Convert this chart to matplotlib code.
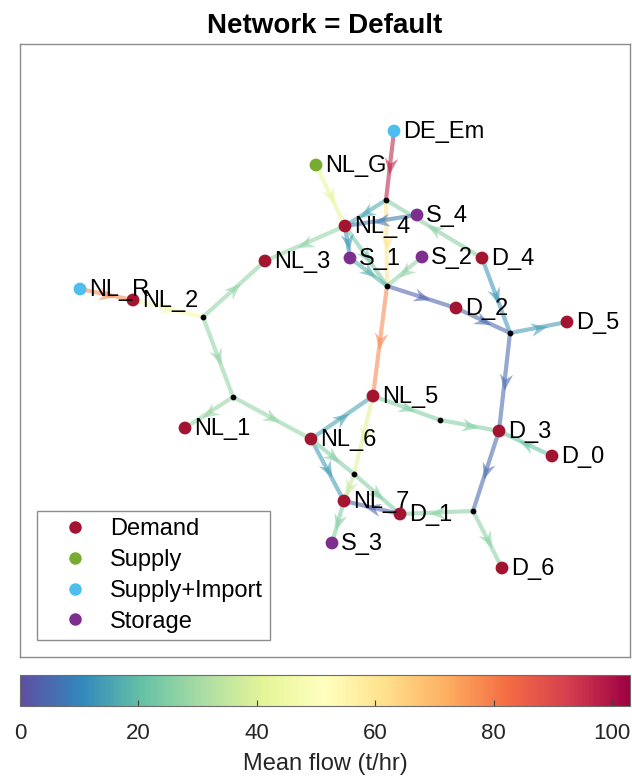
import numpy as np
import matplotlib
matplotlib.use('Agg')
import matplotlib.pyplot as plt
from matplotlib.markers import MarkerStyle
from matplotlib.path import Path
from matplotlib.transforms import Affine2D
from matplotlib.lines import Line2D
import matplotlib.colors as mcolors
import matplotlib.cm as cm

plt.rcParams['font.family'] = ['Liberation Sans', 'DejaVu Sans']

# 节点布局 (layout units, y grows downward)
node_names = ['DE_Em', 'NL_G', 'NL_4', 'S_4', 'NL_3', 'S_1', 'S_2', 'D_4',
              'NL_R', 'NL_2', 'D_2', 'D_5', 'NL_5', 'D_3', 'D_0', 'NL_1',
              'NL_6', 'NL_7', 'D_1', 'S_3', 'D_6']
node_x = [394, 316, 345, 417, 265, 350, 422, 482,
          80, 133, 456, 567, 373, 499, 552, 185,
          311, 344, 400, 332, 502]
node_y = [131, 165, 226, 215, 261, 258, 257, 258,
          289, 300, 308, 322, 396, 431, 456, 428,
          439, 501, 514, 543, 568]
node_type = ['Supply+Import', 'Supply', 'Demand', 'Storage', 'Demand', 'Storage', 'Storage', 'Demand',
             'Supply+Import', 'Demand', 'Demand', 'Demand', 'Demand', 'Demand', 'Demand', 'Demand',
             'Demand', 'Demand', 'Demand', 'Storage', 'Demand']

# 管道交汇点
junc_names = ['J1', 'J2', 'J3', 'J4', 'J5', 'J6', 'J7', 'J8']
junc_x = [386, 387, 203, 510, 233, 440, 354, 473]
junc_y = [200, 286, 317, 333, 397, 420, 474, 511]

# 边: 起点, 终点, 平均流量 (t/hr)
edge_from = ['DE_Em', 'NL_G', 'J1', 'J2', 'J1', 'D_4', 'S_4', 'NL_4', 'J3', 'NL_4',
             'NL_4', 'S_1', 'S_2', 'J2', 'D_2', 'D_4', 'J4', 'J4', 'D_3', 'J8',
             'J8', 'D_0', 'NL_5', 'J6', 'NL_6', 'NL_5', 'J7', 'NL_7', 'J3', 'J5',
             'J5', 'NL_6', 'NL_6', 'J7', 'D_1', 'NL_R', 'NL_2']
edge_to = ['J1', 'NL_4', 'J2', 'NL_5', 'NL_4', 'J1', 'NL_4', 'NL_3', 'NL_3', 'J2',
           'S_1', 'J2', 'J2', 'D_2', 'J4', 'J4', 'D_5', 'D_3', 'J8', 'D_6',
           'D_1', 'D_3', 'J6', 'D_3', 'NL_5', 'J7', 'NL_7', 'S_3', 'J5', 'NL_1',
           'NL_6', 'NL_7', 'J7', 'D_1', 'NL_7', 'NL_2', 'J3']
edge_flow = [97, 42, 60, 78, 16, 26, 8, 27, 27, 24,
             13, 18, 27, 4, 5, 13, 14, 5, 5, 26,
             26, 21, 25, 25, 15, 40, 36, 25, 27, 28,
             27, 14, 25, 25, 4, 78, 47]

type_names = ['Demand', 'Supply', 'Supply+Import', 'Storage']
type_colors = ['#a2142f', '#77ac30', '#4dbeee', '#7e2f8e']

vmax = 103
cmap = plt.get_cmap('Spectral_r')
norm = mcolors.Normalize(vmin=0, vmax=vmax)

pos = {}
for n, x, y in zip(node_names, node_x, node_y):
    pos[n] = (x, y)
for n, x, y in zip(junc_names, junc_x, junc_y):
    pos[n] = (x, y)

fig = plt.figure(figsize=(6.32, 7.79), dpi=100)
ax = fig.add_axes([20 / 632, 1 - 657 / 779, 610 / 632, 613 / 779])
ax.set_xlim(20, 630)
ax.set_ylim(657, 44)
ax.set_xticks([])
ax.set_yticks([])
for s in ax.spines.values():
    s.set_color('#8c8c8c')
    s.set_linewidth(1.0)

# 箭头形状 (chevron)
chev = Path([(1, 0), (-1, 0.8), (-0.35, 0), (-1, -0.8), (1, 0)],
            [Path.MOVETO, Path.LINETO, Path.LINETO, Path.LINETO, Path.CLOSEPOLY])

for a, b, f in zip(edge_from, edge_to, edge_flow):
    x1, y1 = pos[a]
    x2, y2 = pos[b]
    c = cmap(norm(f))
    ax.plot([x1, x2], [y1, y2], color=c, lw=3.0, alpha=0.58, solid_capstyle='butt', zorder=1)
    ang = np.degrees(np.arctan2(-(y2 - y1), x2 - x1))
    m = MarkerStyle(chev, transform=Affine2D().rotate_deg(ang))
    ax.plot([(x1 + x2) / 2], [(y1 + y2) / 2], marker=m, ms=12, color=c,
            alpha=0.58, mew=0, zorder=2)

ax.scatter(junc_x, junc_y, s=10, color='black', zorder=3)

col_of = dict(zip(type_names, type_colors))
ax.scatter(node_x, node_y, s=85, c=[col_of[t] for t in node_type], zorder=4, linewidths=0)
for n, x, y in zip(node_names, node_x, node_y):
    ax.text(x + 9, y + 1, n, fontsize=17, va='center', ha='left', zorder=5)

handles = [Line2D([], [], ls='none', marker='o', ms=9, mew=0, color=c) for c in type_colors]
leg = ax.legend(handles, type_names, loc='lower left', bbox_to_anchor=(0.028, 0.028),
                borderaxespad=0, fontsize=17, frameon=True, fancybox=False,
                edgecolor='#8c8c8c', framealpha=1, borderpad=0.3, handlelength=2.6,
                handletextpad=0.2, labelspacing=0.38)
leg.get_frame().set_linewidth(1.0)

ax.set_title('Network = Default', fontsize=20, fontweight='bold', pad=8)

cax = fig.add_axes([20 / 632, 1 - 706 / 779, 610 / 632, 31 / 779])
cb = fig.colorbar(cm.ScalarMappable(norm=norm, cmap=cmap), cax=cax, orientation='horizontal')
cb.set_ticks([0, 20, 40, 60, 80, 100])
cb.ax.tick_params(direction='in', length=4, width=0.8, color='#404040', labelsize=16, pad=12)
cb.outline.set_edgecolor('#6c6c6c')
cb.set_label('Mean flow (t/hr)', fontsize=17, color='#262626', labelpad=7)
for t in cb.ax.get_xticklabels():
    t.set_color('#262626')

fig.savefig('out.png', dpi=100)
